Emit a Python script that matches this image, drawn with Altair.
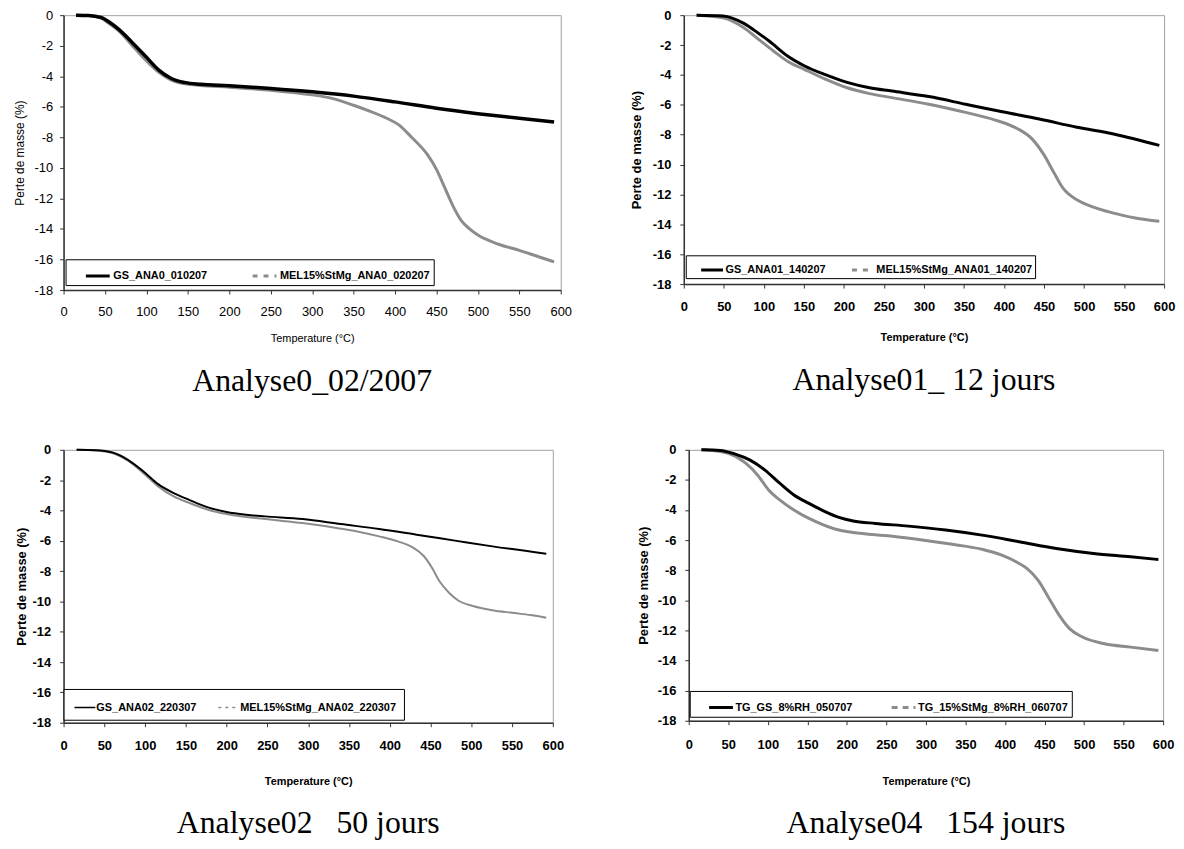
import altair as alt
import pandas as pd

X_TICKS = [0, 50, 100, 150, 200, 250, 300, 350, 400, 450, 500, 550, 600]
Y_TICKS = [0, -2, -4, -6, -8, -10, -12, -14, -16, -18]

# ---------- Analyse0 ----------
NAMES_1 = ["GS_ANA0_010207", "MEL15%StMg_ANA0_020207"]
T1_GS = [15, 30, 45, 55, 67, 83, 100, 115, 130, 147, 165, 200, 250, 300, 350, 400, 450, 500, 550, 592]
V1_GS = [0, -0.02, -0.15, -0.45, -0.95, -1.8, -2.75, -3.6, -4.15, -4.42, -4.52, -4.62, -4.8, -5.02, -5.3, -5.68, -6.1, -6.45, -6.75, -7.0]
T1_MEL = [15, 30, 45, 55, 67, 83, 100, 115, 130, 147, 165, 200, 250, 300, 320, 350, 370, 390, 405, 420, 440, 450, 460, 470, 480, 490, 500, 525, 550, 575, 592]
V1_MEL = [0, -0.03, -0.2, -0.55, -1.05, -2.0, -3.0, -3.75, -4.25, -4.5, -4.6, -4.72, -4.92, -5.22, -5.4, -5.9, -6.3, -6.75, -7.2, -8.0, -9.2, -10.1, -11.3, -12.5, -13.45, -14.0, -14.4, -15.0, -15.4, -15.85, -16.15]

# ---------- Analyse01 ----------
NAMES_2 = ["GS_ANA01_140207", "MEL15%StMg_ANA01_140207"]
T2_GS = [16, 49, 75, 93, 107, 130, 151, 176, 204, 232, 260, 306, 352, 398, 444, 491, 537, 594]
V2_GS = [0, -0.05, -0.55, -1.2, -1.75, -2.75, -3.4, -3.97, -4.5, -4.86, -5.08, -5.45, -5.96, -6.47, -6.95, -7.5, -7.95, -8.72]
T2_MEL = [16, 49, 75, 93, 112, 130, 151, 176, 204, 232, 260, 306, 352, 389, 417, 435, 449, 463, 474, 491, 509, 537, 564, 594]
V2_MEL = [0, -0.18, -0.84, -1.6, -2.4, -3.1, -3.64, -4.26, -4.86, -5.25, -5.52, -5.96, -6.51, -7.02, -7.6, -8.28, -9.27, -10.6, -11.6, -12.36, -12.8, -13.25, -13.58, -13.8]

# ---------- Analyse02 ----------
NAMES_3 = ["GS_ANA02_220307", "MEL15%StMg_ANA02_220307"]
T3_GS = [16, 40, 60, 79, 98, 116, 135, 154, 177, 200, 224, 247, 293, 340, 387, 433, 480, 526, 592]
V3_GS = [0, -0.03, -0.18, -0.66, -1.43, -2.26, -2.85, -3.3, -3.8, -4.1, -4.28, -4.39, -4.57, -4.9, -5.22, -5.6, -5.99, -6.37, -6.85]
T3_MEL = [16, 40, 60, 79, 98, 116, 135, 154, 177, 200, 247, 293, 340, 363, 387, 410, 428, 442, 452, 461, 473, 484, 503, 526, 550, 573, 592]
V3_MEL = [0, -0.04, -0.22, -0.72, -1.54, -2.41, -3.07, -3.5, -3.95, -4.24, -4.57, -4.83, -5.2, -5.42, -5.71, -6.04, -6.43, -7.02, -7.8, -8.67, -9.44, -9.94, -10.32, -10.58, -10.75, -10.9, -11.08]

# ---------- Analyse04 ----------
NAMES_4 = ["TG_GS_8%RH_050707", "TG_15%StMg_8%RH_060707"]
T4_GS = [16, 40, 58, 77, 96, 115, 133, 152, 171, 190, 208, 236, 278, 325, 371, 418, 465, 512, 559, 594]
V4_GS = [0, -0.04, -0.27, -0.67, -1.33, -2.22, -3.0, -3.56, -4.07, -4.49, -4.73, -4.89, -5.07, -5.33, -5.67, -6.11, -6.56, -6.89, -7.11, -7.29]
T4_MEL = [16, 40, 58, 72, 87, 101, 115, 133, 152, 171, 190, 208, 255, 302, 349, 372, 396, 414, 428, 442, 456, 470, 482, 498, 526, 559, 594]
V4_MEL = [0, -0.11, -0.4, -0.89, -1.67, -2.67, -3.33, -4.0, -4.56, -5.0, -5.33, -5.49, -5.73, -6.04, -6.4, -6.62, -7.0, -7.44, -7.89, -8.67, -9.89, -11.1, -11.9, -12.44, -12.89, -13.11, -13.33]

CAPTIONS = ["Analyse0_02/2007", "Analyse01_ 12 jours",
            "Analyse02\u00a0\u00a0 50 jours", "Analyse04\u00a0\u00a0 154 jours"]

SANS = "Liberation Sans"
SERIF = "Liberation Serif"
GREY = "#8c8c8c"
NBSP = "\u00a0"


def panel(tg, vg, tm, vm, names, caption, w, h, st):
    df = pd.DataFrame({
        "T": tg + tm,
        "V": vg + vm,
        "serie": [names[0]] * len(tg) + [names[1]] * len(tm),
    })
    fw = st["weight"]
    x = alt.X("T:Q", scale=alt.Scale(domain=[0, 600], nice=False, zero=False),
              axis=alt.Axis(values=X_TICKS, title="Temperature (°C)", grid=False,
                            domainColor="#333333", domainWidth=1.5, tickColor="#333333",
                            tickSize=4, tickWidth=1, labelFont=SANS, labelFontSize=13,
                            labelFontWeight=fw, labelColor="black", labelPadding=st["xlp"],
                            labelFlush=False, labelOverlap=False,
                            titleFont=SANS, titleFontSize=11, titleFontWeight=fw,
                            titleColor="black", titlePadding=st["xtp"]))
    y = alt.Y("V:Q", scale=alt.Scale(domain=[-18, 0], nice=False, zero=False),
              axis=alt.Axis(values=Y_TICKS, title="Perte de masse (%)", grid=False,
                            domainColor="#333333", domainWidth=1.5, tickColor="#333333",
                            tickSize=4, tickWidth=1, labelFont=SANS, labelFontSize=13,
                            labelFontWeight=fw, labelColor="black", labelPadding=st["ylp"],
                            labelExpr="toString(datum.value)", labelFlush=False,
                            labelOverlap=False,
                            titleFont=SANS, titleFontSize=st["ytfs"], titleFontWeight=fw,
                            titleColor="black", titlePadding=st["ytp"]))
    cscale = alt.Scale(domain=names, range=["#000000", GREY])
    leg = alt.Legend(title=None, orient="none", legendX=st["lx"], legendY=st["ly"],
                     direction="horizontal", fillColor="white", strokeColor="black",
                     padding=st["pad"], symbolType="stroke", symbolSize=st["ssize"],
                     symbolStrokeWidth=st["ssw"], symbolOffset=st["soff"],
                     labelOffset=st["loff"], columnPadding=st["cpad"],
                     labelFont=SANS, labelFontSize=11, labelFontWeight="bold",
                     labelColor="black", labelLimit=500,
                     labelExpr="datum.label == '" + names[1] + "' ? datum.label + '" + NBSP * st["nb"] + "' : datum.label")
    color = alt.Color("serie:N", scale=cscale, legend=leg)
    base = alt.Chart(df)
    grey_line = base.transform_filter(alt.datum.serie == names[1]).mark_line(
        interpolate="monotone", strokeWidth=st["lw"][1]).encode(x=x, y=y, color=color, order="T:Q")
    black_line = base.transform_filter(alt.datum.serie == names[0]).mark_line(
        interpolate="monotone", strokeWidth=st["lw"][0]).encode(x=x, y=y, color=color, order="T:Q")
    legend_layer = base.transform_filter("false").mark_line().encode(
        x=x, y=y, color=color,
        strokeDash=alt.StrokeDash("serie:N", scale=alt.Scale(domain=names, range=[[1, 0], st["dash"]]), legend=leg),
    )
    return alt.layer(grey_line, black_line, legend_layer).properties(
        width=w, height=h,
        title=alt.TitleParams(text=caption, orient="bottom", anchor="middle", font=SERIF,
                              fontSize=32, fontWeight="normal", color="black", offset=st["toff"]),
    )


S1 = dict(weight="normal", xlp=12, xtp=14, ylp=7, ytp=8, ytfs=12, lw=[3.5, 3],
          lx=2, ly=246, pad=3, ssize=576, ssw=3, soff=16, loff=2, cpad=28, nb=5,
          dash=[5, 6], toff=23)
S2 = dict(weight="bold", xlp=13, xtp=18, ylp=9, ytp=9, ytfs=13, lw=[3, 3],
          lx=2, ly=242, pad=2, ssize=484, ssw=3, soff=12, loff=1, cpad=13, nb=4,
          dash=[5, 6], toff=23)
S3 = dict(weight="bold", xlp=13, xtp=23, ylp=9, ytp=4, ytfs=13, lw=[2, 2],
          lx=0, ly=241, pad=7, ssize=441, ssw=1.5, soff=3, loff=0, cpad=18, nb=1,
          dash=[3, 4], toff=22)
S4 = dict(weight="bold", xlp=14, xtp=24, ylp=9, ytp=7, ytfs=13, lw=[3, 3],
          lx=1, ly=243, pad=3, ssize=576, ssw=3, soff=15, loff=1, cpad=22, nb=5,
          dash=[6, 5], toff=22)

p1 = panel(T1_GS, V1_GS, T1_MEL, V1_MEL, NAMES_1, CAPTIONS[0], 501, 277, S1)
p2 = panel(T2_GS, V2_GS, T2_MEL, V2_MEL, NAMES_2, CAPTIONS[1], 484, 271, S2)
p3 = panel(T3_GS, V3_GS, T3_MEL, V3_MEL, NAMES_3, CAPTIONS[2], 493, 275, S3)
p4 = panel(T4_GS, V4_GS, T4_MEL, V4_MEL, NAMES_4, CAPTIONS[3], 478, 273, S4)

res = dict(color="independent", strokeDash="independent")

row1 = alt.hconcat(p1, p2, spacing=124, bounds="flush").resolve_scale(**res).resolve_legend(**res)
row2 = alt.hconcat(p3, p4, spacing=137, bounds="flush").resolve_scale(**res).resolve_legend(**res)

chart = alt.vconcat(row1, row2, spacing=45).resolve_scale(**res).resolve_legend(**res).configure_view(
    stroke="#a0a0a0", strokeWidth=1
).properties(
    padding={"left": 4, "top": -4, "right": 0, "bottom": 0},
    background="white",
)

chart.save("out.html", embed_options={"renderer": "svg", "actions": False})
